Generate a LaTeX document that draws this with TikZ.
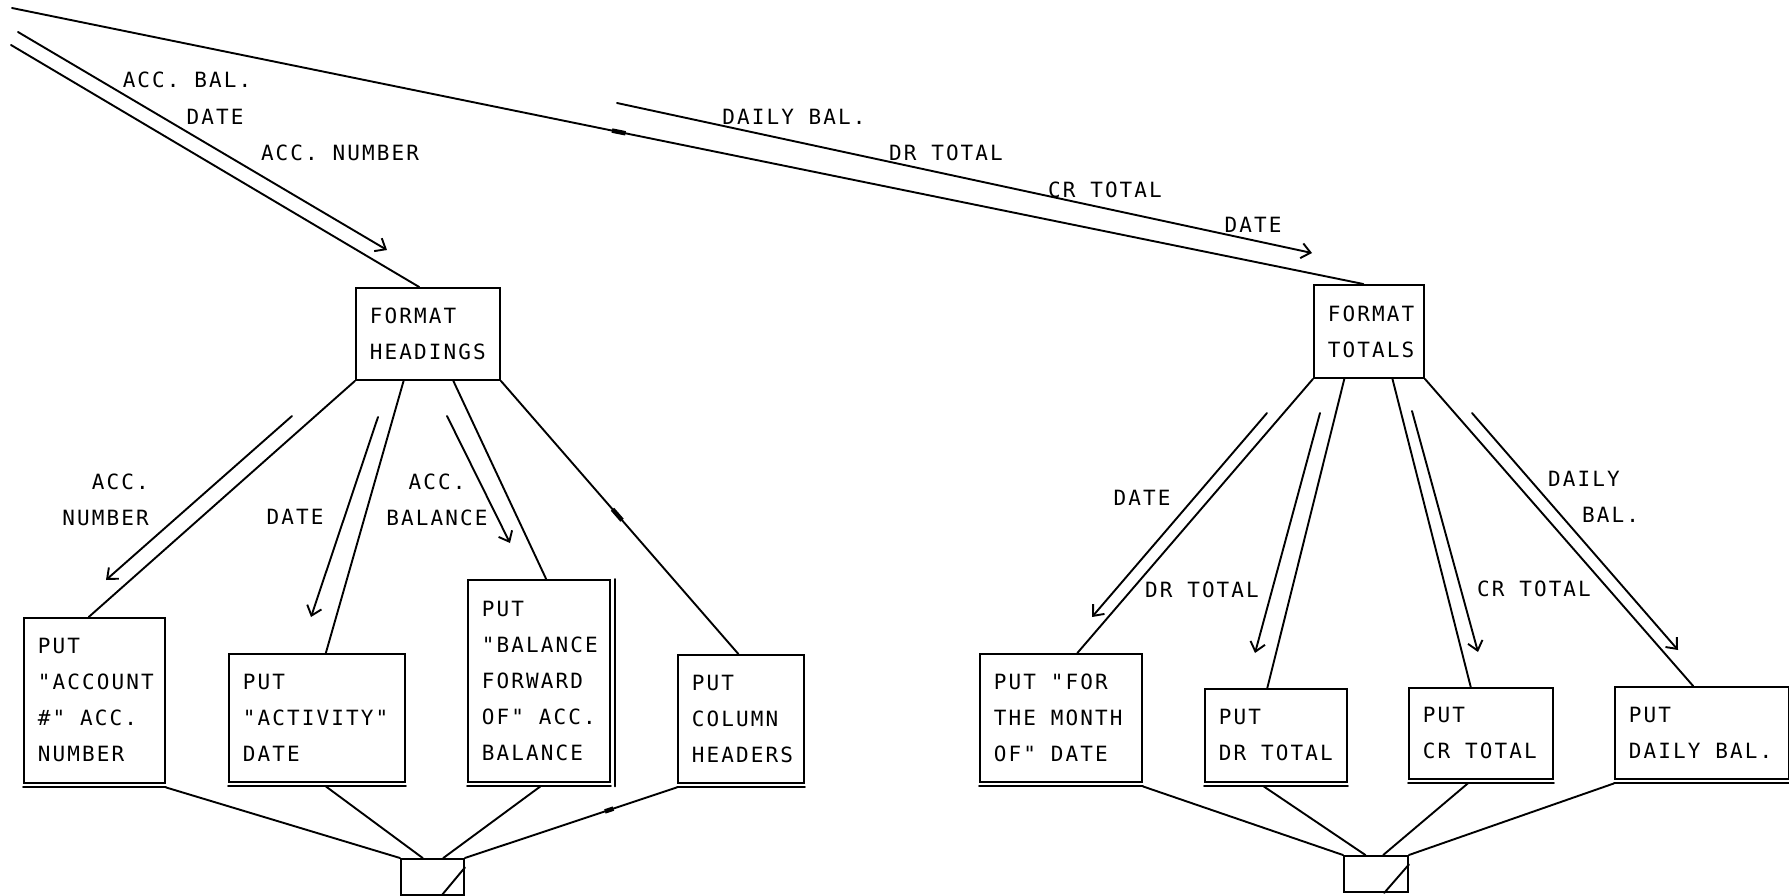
\documentclass[tikz,border=0pt]{standalone}
\usepackage{fontspec}
\newfontfamily\pf[LetterSpace=10]{DejaVu Sans Mono}
\newcommand\pffont{\pf\fontsize{21}{36}\selectfont}
\newcommand\oneline[1]{\mbox{\spaceskip=0pt\xspaceskip=0pt\relax #1}}
\usetikzlibrary{arrows.meta,calc}
\begin{document}
\begin{tikzpicture}[x=1pt,y=-1pt,
  ln/.style={line width=1.9pt, line cap=round, line join=round},
  couple/.style={ln, -{Straight Barb[length=9pt,width=15pt]}},
  txt/.style={font=\pffont},
  box/.style={txt, draw, line width=1.9pt, anchor=north west, inner xsep=14pt, inner ysep=0pt, align=left},
  lbl/.style={txt, inner sep=0pt},
  sbox/.style={draw, line width=1.9pt, anchor=north west, inner sep=0pt, minimum width=63pt, minimum height=36pt},
  blob/.style={line width=4.5pt}
]
\useasboundingbox[fill=white] (0,0) rectangle (1789,895);

% main modules
\node[box, text width=116pt, minimum height=92pt] (fh) at (355,287) {FORMAT\\HEADINGS};
\node[box, text width=82pt, minimum height=93pt] (ft) at (1313,284) {FORMAT\\TOTALS};

% left leaves
\node[box, text width=113pt, minimum height=165pt] (pa) at (23,617) {PUT\\"ACCOUNT\\\oneline{\#" ACC.}\\NUMBER};
\node[box, text width=148pt, minimum height=128pt] (pb) at (228,653) {PUT\\"ACTIVITY"\\DATE};
\node[box, text width=114pt, minimum height=202pt] (pc) at (467,579) {PUT\\"BALANCE\\FORWARD\\\oneline{OF" ACC.}\\BALANCE};
\node[box, text width=98pt, minimum height=128pt] (pd) at (677,654) {PUT\\COLUMN\\HEADERS};

% right leaves
\node[box, text width=134pt, minimum height=128pt] (pe) at (979,653) {\oneline{PUT "FOR}\\\oneline{THE MONTH}\\\oneline{OF" DATE}};
\node[box, text width=114pt, minimum height=93pt] (pf) at (1204,688) {PUT\\\oneline{DR TOTAL}};
\node[box, text width=116pt, minimum height=91pt] (pg) at (1408,687) {PUT\\\oneline{CR TOTAL}};
\node[box, text width=146pt, minimum height=92pt] (ph) at (1614,686) {PUT\\\oneline{DAILY BAL.}};

% doubled edges
\foreach \b in {pa,pb,pc,pd,pe,pf,pg,ph}
  \draw[ln] ($(\b.south west)+(0,3.5)$) -- ($(\b.south east)+(0,3.5)$);
\draw[ln] ($(pc.north east)+(4,0)$) -- ($(pc.south east)+(4,3.5)$);

% small connector boxes
\node[sbox] (sl) at (400,858) {};
\node[sbox, minimum width=64pt] (sr) at (1343,855) {};
\draw[ln] ($(sl.south west)!0.635!(sl.south east)$) -- ($(sl.north east)!0.25!(sl.south east)$);
\draw[ln] ($(sr.south west)!0.625!(sr.south east)$) -- ($(sr.north east)!0.25!(sr.south east)$);

% incoming connectors from the top left
\coordinate (tl) at (12,8);
\coordinate (ll) at (11,45);
\coordinate (ftin) at ($(ft.north west)!0.45!(ft.north east)$);
\draw[ln] (tl) -- (ftin);
\draw[blob] ($(tl)!0.444!(ftin)$) -- ($(tl)!0.454!(ftin)$);
\draw[ln] (ll) -- ($(fh.north west)!0.44!(fh.north east)$);

% top data couples
\coordinate (c1a) at (18,32); \coordinate (c1b) at (387,250);
\draw[couple] (c1a) -- (c1b);
\coordinate (c2a) at (617,103); \coordinate (c2b) at (1312,253);
\draw[couple] (c2a) -- (c2b);

\node[lbl] (l1) at (187,80) {ACC. BAL.};
\node[lbl] (l2) at (215,117) {DATE};
\node[lbl] (l3) at (340,153) {ACC. NUMBER};
\node[lbl] (l4) at (794,117) {DAILY BAL.};
\node[lbl] (l5) at (946,153) {DR TOTAL};
\node[lbl] (l6) at (1105,190) {CR TOTAL};
\node[lbl] (l7) at (1253,225) {DATE};

% connectors FORMAT HEADINGS
\draw[ln] ($(pa.north west)!0.46!(pa.north east)$) -- (fh.south west);
\draw[ln] ($(pb.north west)!0.55!(pb.north east)$) -- ($(fh.south west)!0.333!(fh.south east)$);
\draw[ln] ($(pc.north west)!0.55!(pc.north east)$) -- ($(fh.south west)!0.674!(fh.south east)$);
\coordinate (pdt) at ($(pd.north west)!0.48!(pd.north east)$);
\draw[ln] (pdt) -- (fh.south east);
\draw[blob] ($(pdt)!0.49!(fh.south east)$) -- ($(pdt)!0.53!(fh.south east)$);

% connectors FORMAT TOTALS
\draw[ln] ($(pe.north west)!0.6!(pe.north east)$) -- (ft.south west);
\draw[ln] ($(pf.north west)!0.44!(pf.north east)$) -- ($(ft.south west)!0.28!(ft.south east)$);
\draw[ln] ($(pg.north west)!0.43!(pg.north east)$) -- ($(ft.south west)!0.71!(ft.south east)$);
\draw[ln] ($(ph.north west)!0.45!(ph.north east)$) -- (ft.south east);

% lower data couples, left
\coordinate (d1a) at (292,416); \coordinate (d1b) at (106,580);
\draw[couple] (d1a) -- (d1b);
\coordinate (d2a) at (378,417); \coordinate (d2b) at (311,617);
\draw[couple] (d2a) -- (d2b);
\coordinate (d3a) at (447,416); \coordinate (d3b) at (510,543);
\draw[couple] (d3a) -- (d3b);
\node[lbl, anchor=east, align=right] (m1) at (149,500) {ACC.\\NUMBER};
\node[lbl] (m2) at (295,517) {DATE};
\node[lbl, align=center] (m3) at (437,500) {ACC.\\BALANCE};

% lower data couples, right
\coordinate (e1a) at (1267,413); \coordinate (e1b) at (1092,617);
\draw[couple] (e1a) -- (e1b);
\coordinate (e2a) at (1320,413); \coordinate (e2b) at (1255,653);
\draw[couple] (e2a) -- (e2b);
\coordinate (e3a) at (1412,411); \coordinate (e3b) at (1478,652);
\draw[couple] (e3a) -- (e3b);
\coordinate (e4a) at (1472,413); \coordinate (e4b) at (1678,650);
\draw[couple] (e4a) -- (e4b);
\node[lbl] (n1) at (1142,498) {DATE};
\node[lbl] (n2) at (1202,590) {DR TOTAL};
\node[lbl] (n3) at (1534,589) {CR TOTAL};
\node[lbl, anchor=west, align=left] (n4) at (1548,497) {DAILY\\\hspace*{34pt}BAL.};

% bottom connectors, left
\draw[ln] ($(pa.south east)+(0,3.5)$) -- (sl.north west);
\draw[ln] ($(pb.south west)!0.55!(pb.south east)+(0,3.5)$) -- ($(sl.north west)!0.35!(sl.north east)$);
\draw[ln] ($(pc.south west)!0.51!(pc.south east)+(0,3.5)$) -- ($(sl.north west)!0.667!(sl.north east)$);
\coordinate (pdb) at ($(pd.south west)+(0,3.5)$);
\draw[ln] (pdb) -- (sl.north east);
\draw[blob] ($(pdb)!0.30!(sl.north east)$) -- ($(pdb)!0.34!(sl.north east)$);

% bottom connectors, right
\draw[ln] ($(pe.south east)+(0,3.5)$) -- (sr.north west);
\draw[ln] ($(pf.south west)!0.415!(pf.south east)+(0,3.5)$) -- ($(sr.north west)!0.34!(sr.north east)$);
\draw[ln] ($(pg.south west)!0.41!(pg.south east)+(0,3.5)$) -- ($(sr.north west)!0.61!(sr.north east)$);
\draw[ln] ($(ph.south west)+(0,3.5)$) -- (sr.north east);
\end{tikzpicture}
\end{document}
